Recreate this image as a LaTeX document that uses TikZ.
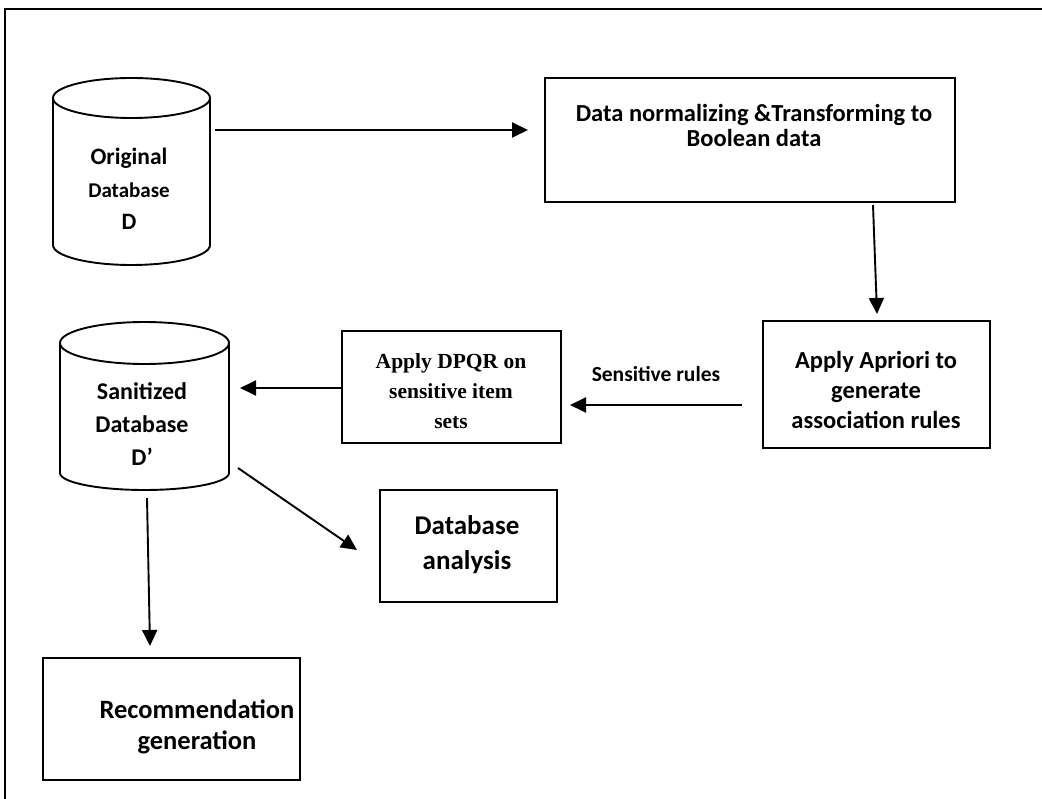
\documentclass[tikz,border=0pt]{standalone}
\usepackage{fontspec}
\setmainfont{Carlito}
\newfontfamily\timesfont{Liberation Serif}
\usetikzlibrary{arrows.meta}
\tikzset{
  line/.style={line width=1.9pt},
  boxnode/.style={draw, line width=1.9pt, inner sep=0pt},
  lbl/.style={align=center, font=\bfseries, inner sep=0pt},
  arr/.style={line width=1.9pt, -{Triangle[length=16pt,width=15pt]}},
}
\begin{document}
\begin{tikzpicture}[x=1pt,y=1pt]
\useasboundingbox (0,0) rectangle (1042,-799);
% frame
\draw[line] (1042,-9) -- (5,-9) -- (5,-799);

% cylinder 1
\draw[line] (53,-98) -- (53,-245) arc[start angle=180,end angle=360,x radius=78.5,y radius=20] -- (210,-98);
\draw[line] (131.5,-98) ellipse[x radius=78.5,y radius=20];
\node[inner sep=0pt, minimum width=157pt, minimum height=187pt] (orig) at (131.5,-171.5) {};
\node[lbl, font=\bfseries\fontsize{23.5}{26}\selectfont] (origA) at (129,-158) {Original};
\node[lbl, font=\bfseries\fontsize{21}{22}\selectfont] (origB) at (129,-190) {Database};
\node[lbl, font=\bfseries\fontsize{23.5}{26}\selectfont] (origC) at (129,-222) {D};

% normalizing box
\node[boxnode, minimum width=410pt, minimum height=124pt] (norm) at (750,-140) {};
\node[lbl, font=\bfseries\fontsize{24.5}{25}\selectfont] (normt) at (754,-125) {Data normalizing \&Transforming to\\Boolean data};

% apriori box
\node[boxnode, minimum width=227pt, minimum height=127pt] (apr) at (876.5,-384.5) {};
\node[lbl, font=\bfseries\fontsize{24.5}{30}\selectfont] (aprt) at (876,-390) {Apply Apriori to\\generate\\association rules};

% DPQR box
\node[boxnode, minimum width=219pt, minimum height=112pt] (dpqr) at (451.5,-387) {};
\node[lbl, font=\timesfont\bfseries\fontsize{21.5}{30}\selectfont] (dpqrt) at (451,-391) {Apply DPQR on\\sensitive item\\sets};

% cylinder 2
\draw[line] (60,-343) -- (60,-473) arc[start angle=180,end angle=360,x radius=84.5,y radius=17] -- (229,-343);
\draw[line] (144.5,-343) ellipse[x radius=84.5,y radius=21];
\node[inner sep=0pt, minimum width=169pt, minimum height=168pt] (san) at (144.5,-406) {};
\node[lbl, font=\bfseries\fontsize{24}{33}\selectfont] (sant) at (142,-424) {Sanitized\\Database\\D’};

% database analysis box
\node[boxnode, minimum width=177pt, minimum height=112pt] (ana) at (468.5,-546) {};
\node[lbl, font=\bfseries\fontsize{27}{35}\selectfont] (anat) at (467,-545) {Database\\analysis};

% recommendation box
\node[boxnode, minimum width=257pt, minimum height=122pt] (rec) at (171.5,-719) {};
\node[lbl, font=\bfseries\fontsize{26.5}{31}\selectfont] (rect) at (197,-727) {Recommendation\\generation};

% connectors
\coordinate (a1s) at (215,-130);
\coordinate (a1e) at (528,-130);
\draw[arr] (a1s) -- (a1e);
\coordinate (a2s) at (873,-205);
\coordinate (a2e) at (877,-314);
\draw[arr] (a2s) -- (a2e);
\coordinate (a3s) at (742,-405);
\coordinate (a3e) at (570,-405);
\draw[arr] (a3s) -- node[lbl, font=\bfseries\fontsize{21.5}{22}\selectfont, above=22pt] (sens) {Sensitive rules} (a3e);
\coordinate (a4s) at (dpqr.west |- 0,-388);
\coordinate (a4e) at (240,-388);
\draw[arr] (a4s) -- (a4e);
\coordinate (a5s) at (238,-468);
\coordinate (a5e) at (357,-550);
\draw[arr] (a5s) -- (a5e);
\coordinate (a6s) at (147,-498);
\coordinate (a6e) at (150,-646);
\draw[arr] (a6s) -- (a6e);
\end{tikzpicture}
\end{document}
